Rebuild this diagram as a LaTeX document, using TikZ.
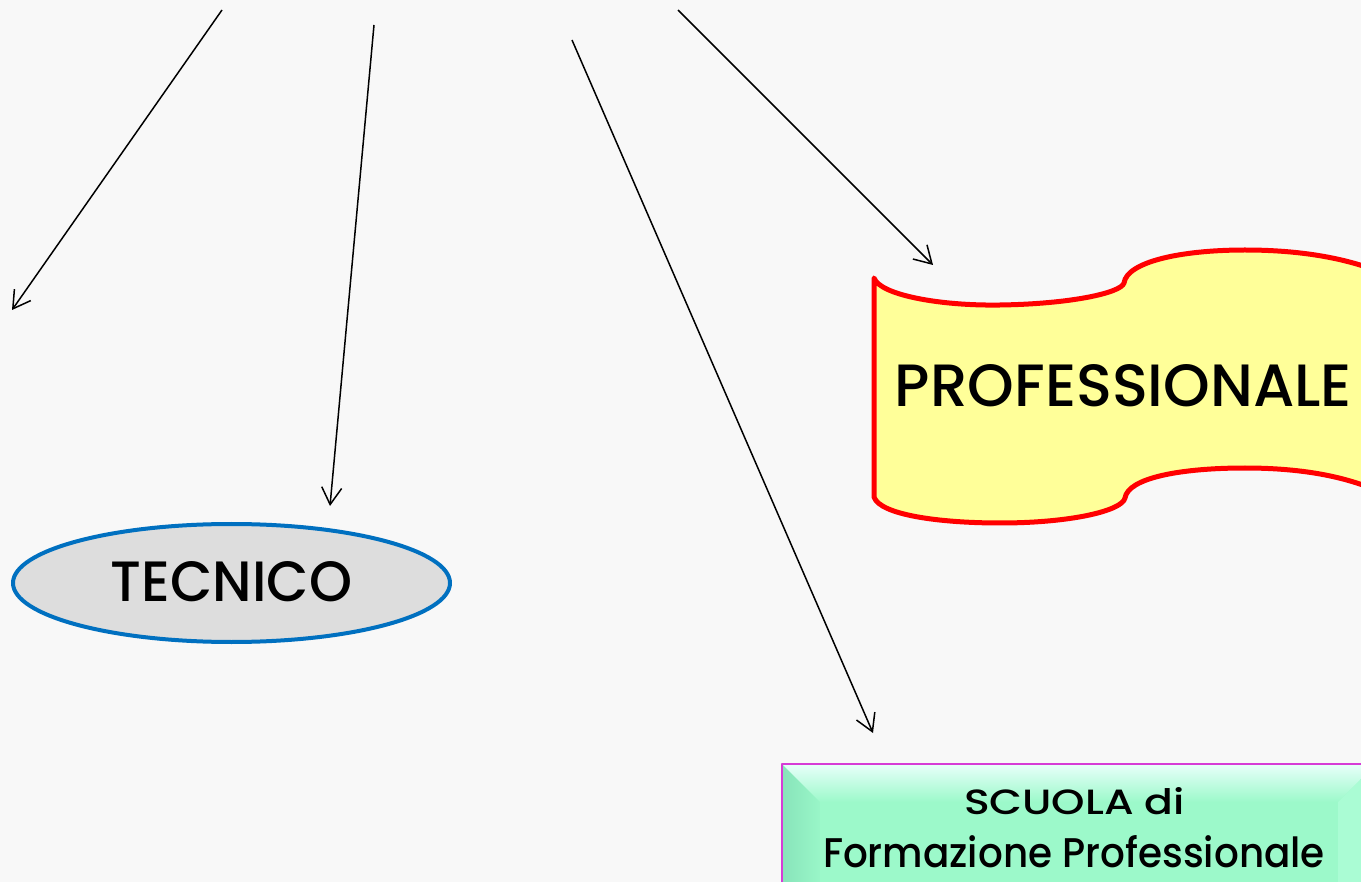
\documentclass[tikz,border=0pt]{standalone}
\usepackage{fontspec}
\setmainfont{Poppins Medium}
\usetikzlibrary{arrows.meta,shapes.geometric}
\definecolor{bg}{RGB}{248,248,248}
\definecolor{tecblue}{RGB}{0,112,192}
\definecolor{tecgray}{RGB}{221,221,221}
\definecolor{banred}{RGB}{255,0,0}
\definecolor{banyel}{RGB}{255,255,153}
\definecolor{boxmag}{RGB}{214,60,214}
\definecolor{boxgreen}{RGB}{156,249,202}
\definecolor{boxdark}{RGB}{136,228,186}
\definecolor{boxlight}{RGB}{170,252,212}
\definecolor{boxtop}{RGB}{232,255,250}
\tikzset{
  arr/.style={line width=1.5pt, -{Straight Barb[length=17pt,width=20pt]}},
  lbl/.style={anchor=base, inner sep=0pt, outer sep=0pt}
}
\begin{document}
\begin{tikzpicture}[x=1pt,y=-1pt,line join=round]
\useasboundingbox (0,0) rectangle (1361,882);
\clip (0,0) rectangle (1361,882);
\fill[bg] (0,0) rectangle (1361,882);

% ---- TECNICO ellipse
\node[ellipse, draw=tecblue, fill=tecgray, line width=4pt, minimum width=437pt,
      minimum height=118pt, inner sep=0pt, outer sep=0pt] (tecnico) at (231.5,583)
      {\raisebox{3pt}{\resizebox{241pt}{40pt}{TECNICO}}};

% ---- PROFESSIONALE banner
\draw[banred, fill=banyel, line width=5pt]
  (874,278) .. controls (880,295) and (940,306) .. (1000,305)
  .. controls (1070,304) and (1121,293) .. (1124,283)
  .. controls (1127,262) and (1180,250) .. (1245,250)
  .. controls (1300,250) and (1345,258) .. (1380,272)
  -- (1380,492)
  .. controls (1345,476) and (1300,468) .. (1245,468)
  .. controls (1180,468) and (1128,478) .. (1125,498)
  .. controls (1122,511) and (1070,523) .. (1000,523)
  .. controls (940,523) and (880,515) .. (874,497) -- cycle;
\node[lbl] (prof) at (1123.5,407) {\resizebox{457pt}{42pt}{PROFESSIONALE}};

% ---- SCUOLA box (bevelled)
\fill[boxgreen] (782,764) rectangle (1376,960);
\shade[left color=boxdark, right color=boxgreen!85!boxdark]
  (782,764) -- (820,802) -- (820,960) -- (782,960) -- cycle;
\shade[top color=boxtop, middle color=boxlight, bottom color=boxgreen]
  (782,764) -- (1376,764) -- (1338,802) -- (820,802) -- cycle;
\fill[boxlight] (1376,764) -- (1338,802) -- (1338,960) -- (1376,960) -- cycle;
\draw[boxmag, line width=2pt] (782,764) rectangle (1376,960);
\node[lbl] (scuola) at (1074.5,814) {\resizebox{221pt}{27pt}{SCUOLA di}};
\node[lbl] (form) at (1074,867) {\resizebox{502pt}{32pt}{Formazione Professionale}};

% ---- arrows
\coordinate (s1) at (222,10);   \coordinate (e1) at (12,310);
\coordinate (s2) at (374,25);   \coordinate (e2) at (330,506);
\coordinate (s3) at (572,40);   \coordinate (e3) at (873,733);
\coordinate (s4) at (678,10);   \coordinate (e4) at (933,265);
\draw[arr] (s1) -- (e1);
\draw[arr] (s2) -- (e2);
\draw[arr] (s3) -- (e3);
\draw[arr] (s4) -- (e4);
\end{tikzpicture}
\end{document}
